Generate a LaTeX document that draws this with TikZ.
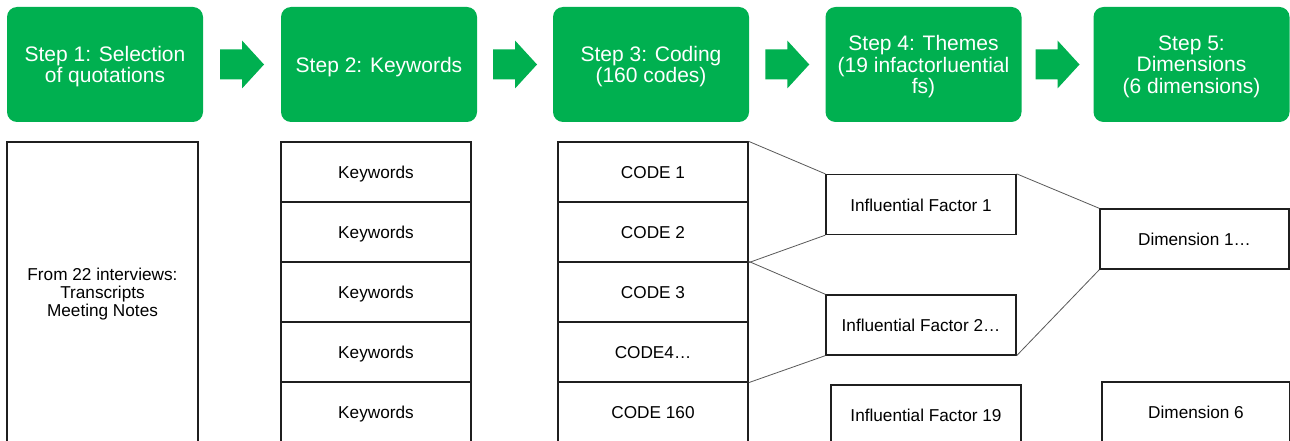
\documentclass[tikz,border=0pt]{standalone}
\usepackage{fontspec}
\setmainfont{Liberation Sans}
\usetikzlibrary{calc}
\definecolor{stepgreen}{HTML}{00B050}
\definecolor{boxline}{HTML}{1F1F1F}
\definecolor{linkgray}{HTML}{595959}

% centred lines of text, drawn a little below the middle of their box
\newcommand\lowtext[1]{\raisebox{-3pt}[\height][\depth]{\begin{tabular}{@{}c@{}}#1\end{tabular}}}

\begin{document}
\begin{tikzpicture}[x=1pt,y=-1pt,
  stepbox/.style={fill=stepgreen, rounded corners=10pt, minimum width=196pt,
    minimum height=115pt, text=white, inner sep=0pt,
    font=\fontsize{21}{20.5}\selectfont},
  cell/.style={draw=boxline, line width=1.3pt, minimum width=190pt,
    minimum height=60pt, inner sep=0pt,
    font=\fontsize{17.2}{18}\selectfont},
  link/.style={draw=linkgray, line width=0.8pt},
  blockarrow/.pic={\fill[stepgreen] (-22,-15) -- (0,-15) -- (0,-24) -- (22,0)
    -- (0,24) -- (0,15) -- (-22,15) -- cycle;}]

\useasboundingbox (0,0) rectangle (1290,441);
\fill[white] (0,0) rectangle (1290,441);
\clip (0,0) rectangle (1290,441);

% process steps
\node[stepbox] (s1) at (105,64.5) {\lowtext{Step 1: Selection\\of quotations}};
\node[stepbox] (s2) at (379,64.5) {\lowtext{Step 2: Keywords}};
\node[stepbox] (s3) at (651,64.5) {\lowtext{Step 3: Coding\\(160 codes)}};
\node[stepbox] (s4) at (923.5,64.5) {\lowtext{Step 4: Themes\\(19 infactorluential\\fs)}};
\node[stepbox] (s5) at (1191.5,64.5) {\lowtext{Step 5:\\Dimensions\\(6 dimensions)}};

\pic at ($(s1.east)!0.5!(s2.west)$) {blockarrow};
\pic at ($(s2.east)!0.5!(s3.west)$) {blockarrow};
\pic at ($(s3.east)!0.5!(s4.west)$) {blockarrow};
\pic at ($(s4.east)!0.5!(s5.west)$) {blockarrow};

% source material
\node[cell, minimum width=191pt, minimum height=300pt] (src) at (102.5,292)
  {\lowtext{From 22 interviews:\\Transcripts\\Meeting Notes}};

% keyword column
\foreach \i in {1,...,5}
  \node[cell] (kw\i) at (376,{172+60*(\i-1)}) {\lowtext{Keywords}};

% code column
\node[cell] (code1) at (653,172) {\lowtext{CODE 1}};
\node[cell] (code2) at (653,232) {\lowtext{CODE 2}};
\node[cell] (code3) at (653,292) {\lowtext{CODE 3}};
\node[cell] (code4) at (653,352) {\lowtext{CODE4…}};
\node[cell] (code5) at (653,412) {\lowtext{CODE 160}};

% themes
\node[cell] (if1) at (921,204.5) {\lowtext{Influential Factor 1}};
\node[cell] (if2) at (921,325) {\lowtext{Influential Factor 2…}};
\node[cell] (if19) at (926,415) {\lowtext{Influential Factor 19}};

% dimensions
\node[cell, minimum width=189pt] (dim1) at (1194.5,239) {\lowtext{Dimension 1…}};
\node[cell, minimum width=188pt] (dim6) at (1196,412) {\lowtext{Dimension 6}};

% groupings
\draw[link] (code1.north east) -- (if1.north west);
\draw[link] (code2.south east) -- (if1.south west);
\draw[link] (code3.north east) -- (if2.north west);
\draw[link] (code4.south east) -- (if2.south west);
\draw[link] (if1.north east) -- (dim1.north west);
\draw[link] (if2.south east) -- (dim1.south west);
\end{tikzpicture}
\end{document}
